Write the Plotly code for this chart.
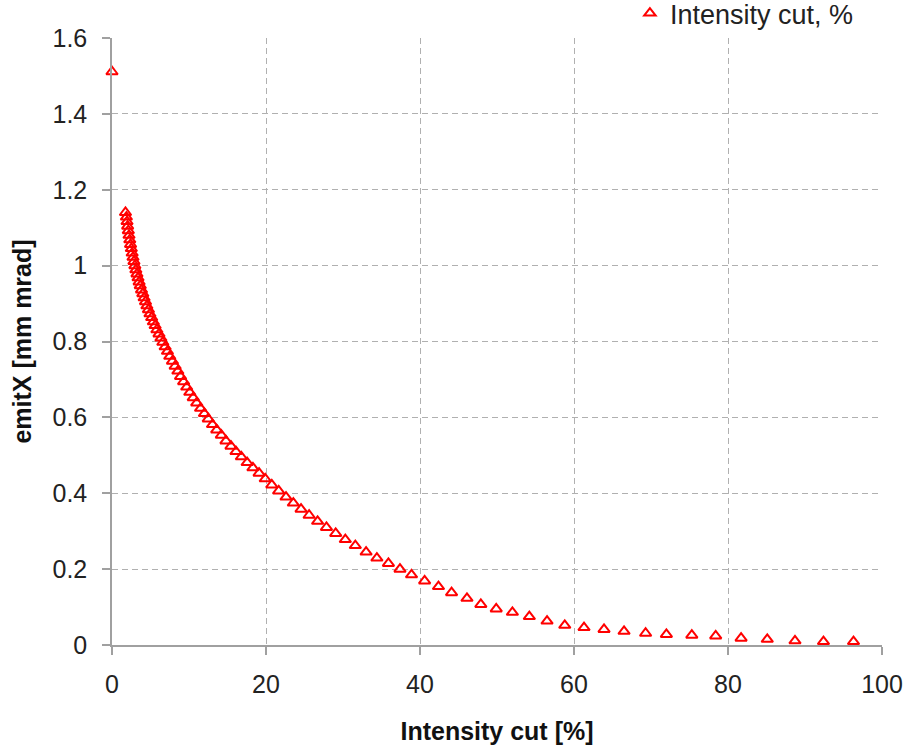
import plotly.graph_objects as go

# Intensity cut [%] (x) and emitX [mm mrad] (y)
cut_pct = [
    0.0,
    1.75, 1.87, 1.95, 2.03, 2.12, 2.21, 2.31, 2.41, 2.51, 2.62,
    2.73, 2.85, 2.97, 3.10, 3.24, 3.38, 3.52, 3.67, 3.83, 4.00,
    4.17, 4.35, 4.53, 4.73, 4.93, 5.15, 5.37, 5.60, 5.83, 6.10,
    6.35, 6.60, 6.90, 7.20, 7.50, 7.85, 8.20, 8.55, 8.90, 9.30,
    9.70, 10.10, 10.55, 11.00, 11.50, 12.00, 12.50, 13.05, 13.60, 14.20,
    14.80, 15.45, 16.10, 16.80, 17.55, 18.30, 19.10, 19.90, 20.75, 21.65,
    22.60, 23.55, 24.55, 25.60, 26.70, 27.85, 29.05, 30.30, 31.60, 33.00,
    34.4, 35.9, 37.4, 38.9, 40.6, 42.4, 44.1, 46.1, 47.9, 49.9,
    52.0, 54.2, 56.5, 58.8, 61.3, 63.9, 66.5, 69.3, 72.0, 75.3,
    78.4, 81.7, 85.1, 88.7, 92.4, 96.3,
]
emit_x = [
    1.511,
    1.140, 1.128, 1.116, 1.104, 1.092, 1.080, 1.068, 1.056, 1.045, 1.033,
    1.022, 1.011, 1.000, 0.989, 0.978, 0.968, 0.957, 0.947, 0.936, 0.926,
    0.915, 0.905, 0.894, 0.884, 0.873, 0.863, 0.852, 0.842, 0.831, 0.820,
    0.809, 0.798, 0.786, 0.774, 0.761, 0.748, 0.735, 0.722, 0.708, 0.694,
    0.680, 0.666, 0.652, 0.638, 0.624, 0.610, 0.596, 0.581, 0.567, 0.553,
    0.538, 0.524, 0.510, 0.496, 0.481, 0.467, 0.453, 0.438, 0.422, 0.406,
    0.390, 0.374, 0.358, 0.342, 0.326, 0.310, 0.294, 0.278, 0.262, 0.245,
    0.229, 0.215, 0.200, 0.185, 0.169, 0.154, 0.138, 0.123, 0.107, 0.095,
    0.086, 0.075, 0.063, 0.052, 0.046, 0.041, 0.036, 0.031, 0.028, 0.026,
    0.024, 0.018, 0.015, 0.011, 0.009, 0.009,
]
x_ticks = [0, 20, 40, 60, 80, 100]
y_ticks = [0, 0.2, 0.4, 0.6, 0.8, 1.0, 1.2, 1.4, 1.6]
y_tick_text = ["0", "0.2", "0.4", "0.6", "0.8", "1", "1.2", "1.4", "1.6"]

FONT = "Liberation Sans, Arial, sans-serif"

fig = go.Figure()
fig.add_trace(go.Scatter(
    x=cut_pct, y=emit_x, mode="markers", name="Intensity cut, %",
    cliponaxis=False,
    marker=dict(symbol="triangle-up-open", size=10, color="#ff0000",
                line=dict(width=2, color="#ff0000")),
))

axis_common = dict(
    showline=True, linecolor="#a0a0a0", linewidth=1.5,
    showgrid=True, gridcolor="#b0b0b0", gridwidth=1, griddash="6px,4px",
    zeroline=False, ticks="outside", ticklen=8, tickcolor="#a0a0a0",
    tickwidth=1.5, tickfont=dict(family=FONT, size=25, color="#222222"),
)

fig.update_layout(
    width=911, height=749,
    margin=dict(l=112, r=29, t=38, b=104, autoexpand=False),
    paper_bgcolor="white", plot_bgcolor="white",
    font=dict(family=FONT, size=25, color="#222222"),
    showlegend=True,
    legend=dict(x=0.97, y=1.0, xanchor="right", yanchor="bottom",
                bgcolor="rgba(0,0,0,0)", font=dict(family=FONT, size=27, color="#222222"),
                itemwidth=30, borderwidth=0),
    xaxis=dict(range=[0, 100], tickvals=x_ticks,
               title=dict(text="<b>Intensity cut [%]</b>", font=dict(family=FONT, size=25, color="#111111"), standoff=26),
               ticklabelstandoff=8, **axis_common),
    yaxis=dict(range=[0, 1.6], tickvals=y_ticks, ticktext=y_tick_text,
               title=dict(text="<b>emitX [mm mrad]</b>", font=dict(family=FONT, size=25, color="#111111"), standoff=14),
               ticklabelstandoff=10, **axis_common),
)

fig.write_html("out.html")
